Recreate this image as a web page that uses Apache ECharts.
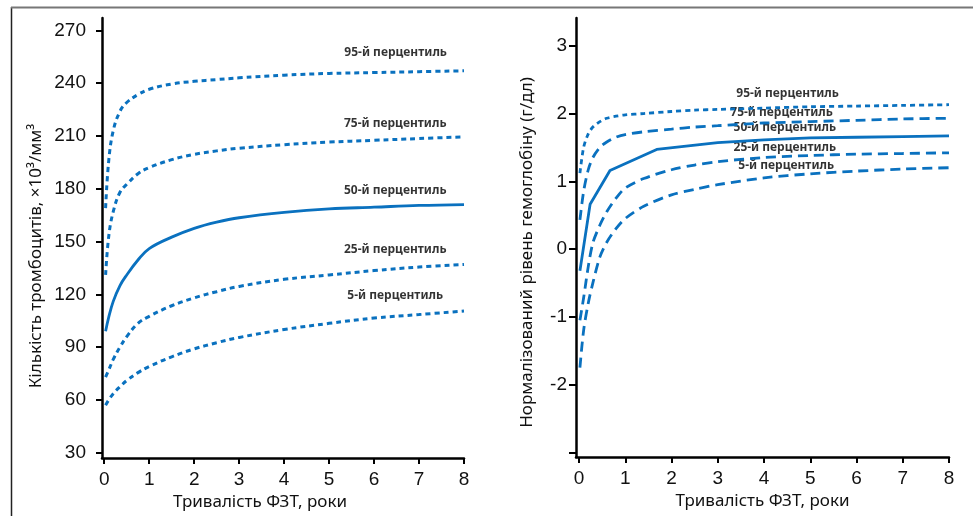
<!DOCTYPE html>
<html>
<head>
<meta charset="utf-8">
<title>Percentiles</title>
<style>
  html, body { margin: 0; padding: 0; background: #fff; }
  #box { width: 973px; height: 516px; }
</style>
</head>
<body>
<div id="box"></div>
<script src="https://cdn.jsdelivr.net/npm/echarts@6.0.0/dist/echarts.min.js"></script>
<script>
// ---- data ----
// left panel: platelet count, x = years
var plateletX = [0.03, 0.1, 0.2, 0.35, 0.5, 0.75, 1, 1.5, 2, 2.5, 3, 4, 5, 6, 7, 8];
var plt95 = [169, 196, 213, 224, 229, 233.5, 236.5, 239.5, 241, 242, 243, 244.5, 245.5, 246, 246.5, 247];
var plt75 = [131, 153, 167, 178, 182.5, 188.5, 192, 196.5, 199.5, 201.5, 203, 205, 206.5, 207.5, 208.5, 209.5];
var plt50 = [99, 107, 116, 125, 131, 139.5, 146, 152.5, 157.5, 161, 163.5, 166.5, 168.5, 169.5, 170.5, 171];
var plt25 = [73, 77, 83, 90, 96, 103.5, 107.5, 113.5, 118, 121.5, 124.5, 128.5, 131, 133.5, 135.5, 137];
var plt5 = [57, 60, 63.5, 67.5, 71, 75.5, 79, 84.5, 89, 92.5, 95.5, 100, 103.5, 106.5, 108.5, 110.5];

// right panel: normalised haemoglobin
var hbX = [0.02, 0.1, 0.2, 0.3, 0.45, 0.6, 0.8, 1, 1.4, 2, 2.5, 3, 4, 5, 6, 7, 8];
var hb95 = [1.12, 1.5, 1.7, 1.8, 1.88, 1.93, 1.96, 1.98, 2.0, 2.03, 2.05, 2.06, 2.08, 2.1, 2.11, 2.12, 2.13];
var hb75 = [0.43, 0.85, 1.17, 1.35, 1.5, 1.58, 1.65, 1.69, 1.73, 1.77, 1.8, 1.82, 1.86, 1.88, 1.9, 1.92, 1.93];
var hb25 = [-1.05, -0.72, -0.26, 0.09, 0.35, 0.55, 0.75, 0.9, 1.04, 1.17, 1.24, 1.29, 1.35, 1.38, 1.4, 1.41, 1.42];
var hb5 = [-1.75, -1.2, -0.8, -0.5, -0.12, 0.1, 0.3, 0.45, 0.63, 0.8, 0.88, 0.95, 1.05, 1.11, 1.15, 1.18, 1.2];
var hb50X = [0.02, 0.24, 0.67, 1.68, 3, 4, 5, 6, 7, 8];
var hb50 = [-0.32, 0.66, 1.16, 1.47, 1.57, 1.61, 1.64, 1.65, 1.66, 1.67];

var percentileNames = ['95-й перцентиль', '75-й перцентиль', '50-й перцентиль', '25-й перцентиль', '5-й перцентиль'];
var xTicks = [0, 1, 2, 3, 4, 5, 6, 7, 8];
var plateletTicks = [30, 60, 90, 120, 150, 180, 210, 240, 270];
var hbTicks = [-3, -2, -1, 0, 1, 2, 3];
var hbLabelTicks = [-2, -1, 0, 1, 2, 3];

// where the percentile captions sit (data coords)
var plateletLabelPos = [[6.48, 257.2], [6.47, 216.9], [6.47, 178.8], [6.47, 145.3], [6.47, 119.2]];
var hbLabelPos = [[4.51, 2.29], [4.38, 2.01], [4.45, 1.79], [4.45, 1.49], [4.48, 1.23]];

// ---- chart ----
var blue = '#0a71bf';
var dom = document.getElementById('box');
var myChart = echarts.init(dom, null, { renderer: 'canvas' });

function pairs(xs, ys) {
  return xs.map(function (x, i) { return [x, ys[i]]; });
}

function lineSeries(idx, xs, ys, dash, width, smooth) {
  return {
    type: 'line',
    xAxisIndex: idx, yAxisIndex: idx,
    data: pairs(xs, ys),
    showSymbol: false,
    smooth: smooth,
    silent: true,
    lineStyle: { color: blue, width: width, type: dash }
  };
}

function captionSeries(idx, pos) {
  return {
    type: 'scatter',
    xAxisIndex: idx, yAxisIndex: idx,
    symbolSize: 1,
    silent: true,
    itemStyle: { color: 'transparent' },
    label: {
      show: true, position: 'inside',
      formatter: '{b}',
      fontFamily: 'Noto Sans', fontSize: 12, fontWeight: 'bold', color: '#000'
    },
    data: pos.map(function (p, i) { return { name: percentileNames[i], value: p }; })
  };
}

var tickFont = { fontFamily: 'Liberation Sans', fontSize: 19, color: '#111' };
var nameFont = { fontFamily: 'Noto Sans', fontSize: 17, color: '#111' };
var axisLine = { show: true, onZero: false, lineStyle: { color: '#000', width: 2.5 } };

function xAxis(idx, min, shift) {
  return {
    gridIndex: idx, type: 'value', min: min, max: 8,
    name: 'Тривалість ФЗТ, роки', nameLocation: 'middle', nameGap: 36,
    nameTextStyle: Object.assign({ padding: [0, shift, 0, 0] }, nameFont),
    axisLine: axisLine,
    axisTick: { show: true, length: 6, lineStyle: { color: '#000', width: 2 }, customValues: xTicks },
    axisLabel: Object.assign({ margin: 12, customValues: xTicks }, tickFont),
    splitLine: { show: false }
  };
}

myChart.setOption({
  animation: false,
  backgroundColor: '#fff',
  grid: [
    { left: 102, top: 18, width: 362, height: 440 },
    { left: 576, top: 18, width: 373, height: 439 }
  ],
  xAxis: [xAxis(0, -0.05, 46), xAxis(1, -0.065, 0)],
  yAxis: [
    {
      gridIndex: 0, type: 'value', min: 27, max: 277,
      name: 'Кількість тромбоцитів, ×10³/мм³', nameLocation: 'middle', nameGap: 57,
      nameTextStyle: Object.assign({ padding: [0, 36, 0, 0] }, nameFont),
      axisLine: axisLine,
      axisTick: { show: true, length: 6, lineStyle: { color: '#000', width: 2 }, customValues: plateletTicks },
      axisLabel: Object.assign({ margin: 16, customValues: plateletTicks }, tickFont),
      splitLine: { show: false }
    },
    {
      gridIndex: 1, type: 'value', min: -3.07, max: 3.41,
      name: 'Нормалізований рівень гемоглобіну (г/дл)', nameLocation: 'middle', nameGap: 40,
      nameTextStyle: Object.assign({ padding: [0, 30, 0, 0] }, nameFont),
      axisLine: axisLine,
      axisTick: { show: true, length: 7, lineStyle: { color: '#000', width: 2 }, customValues: hbTicks },
      axisLabel: Object.assign({ margin: 9, customValues: hbLabelTicks }, tickFont),
      splitLine: { show: false }
    }
  ],
  graphic: [
    { type: 'line', shape: { x1: 11.5, y1: 7, x2: 11.5, y2: 516 }, style: { stroke: '#222', lineWidth: 1.5 } },
    { type: 'line', shape: { x1: 11, y1: 7.5, x2: 973, y2: 7.5 }, style: { stroke: '#777', lineWidth: 2 } }
  ],
  series: [
    lineSeries(0, plateletX, plt95, [5, 4], 3, 0.4),
    lineSeries(0, plateletX, plt75, [5, 4], 3, 0.4),
    lineSeries(0, plateletX, plt50, 'solid', 2.8, 0.4),
    lineSeries(0, plateletX, plt25, [5, 4], 3, 0.4),
    lineSeries(0, plateletX, plt5, [5, 4], 3, 0.4),
    captionSeries(0, plateletLabelPos),
    lineSeries(1, hbX, hb95, [5, 4], 2.8, 0.3),
    lineSeries(1, hbX, hb75, [10, 6], 2.8, 0.3),
    lineSeries(1, hb50X, hb50, 'solid', 2.8, false),
    lineSeries(1, hbX, hb25, [10, 6], 2.8, 0.3),
    lineSeries(1, hbX, hb5, [10, 6], 2.8, 0.3),
    captionSeries(1, hbLabelPos)
  ]
});
</script>
</body>
</html>
